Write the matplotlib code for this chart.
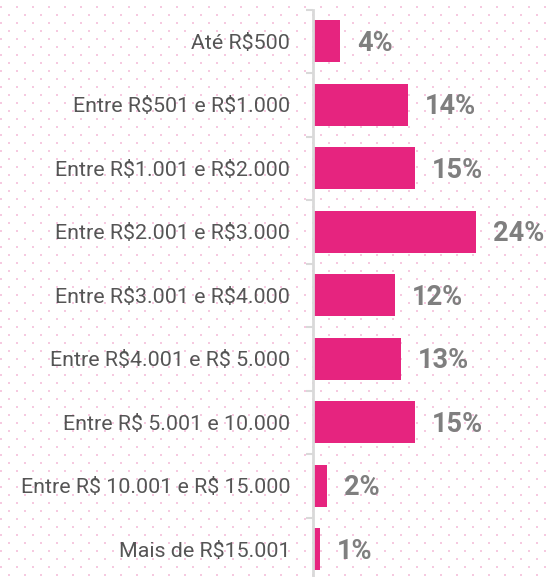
import matplotlib.pyplot as plt
import numpy as np

plt.rcParams['text.parse_math'] = False

categorias = [
    "Até R$500",
    "Entre R$501 e R$1.000",
    "Entre R$1.001 e R$2.000",
    "Entre R$2.001 e R$3.000",
    "Entre R$3.001 e R$4.000",
    "Entre R$4.001 e R$ 5.000",
    "Entre R$ 5.001 e 10.000",
    "Entre R$ 10.001 e R$ 15.000",
    "Mais de R$15.001",
]
valores = [4, 14, 15, 24, 12, 13, 15, 2, 1]

W, H = 548, 577
fig = plt.figure(figsize=(W / 100, H / 100), dpi=100)

# fundo pontilhado
bg = fig.add_axes([0, 0, 1, 1])
bg.set_xlim(0, W)
bg.set_ylim(H, 0)
bg.axis("off")
pts = []
for i, y in enumerate(np.arange(7, H, 8)):
    x0 = 1 if i % 2 == 0 else 9
    for x in np.arange(x0, W, 16):
        pts.append((x, y))
pts = np.array(pts)
bg.scatter(pts[:, 0], pts[:, 1], s=2.2, marker="s", color="#f6c9e0", linewidths=0)

ax = fig.add_axes([313 / W, -0.007, 1 - 313 / W, 0.9905])
ax.patch.set_alpha(0)
y = np.arange(len(categorias))
ax.barh(y, valores, height=0.66, color="#e6247f")
ax.set_ylim(len(categorias) - 0.5, -0.5)
ax.set_xlim(0, 34.6)

for yi, v in zip(y, valores):
    ax.text(v + 2.5, yi + 0.03, f"{v}%", va="center", ha="left", fontsize=19.5,
            fontweight="bold", color="#7f7f7f", family="Roboto")

for s in ["top", "right", "bottom"]:
    ax.spines[s].set_visible(False)
ax.spines["left"].set_color("#d9d9d9")
ax.spines["left"].set_linewidth(2)
ax.set_xticks([])
ax.set_yticks(y)
ax.set_yticklabels(categorias, fontsize=15.4, color="#555555", family="Roboto")
ax.tick_params(axis="y", which="major", length=0, pad=16.5)
ax.set_yticks(np.arange(-0.5, len(categorias), 1), minor=True)
ax.tick_params(axis="y", which="minor", length=5, width=1.5, color="#d9d9d9")

fig.savefig("out.png", dpi=100)
